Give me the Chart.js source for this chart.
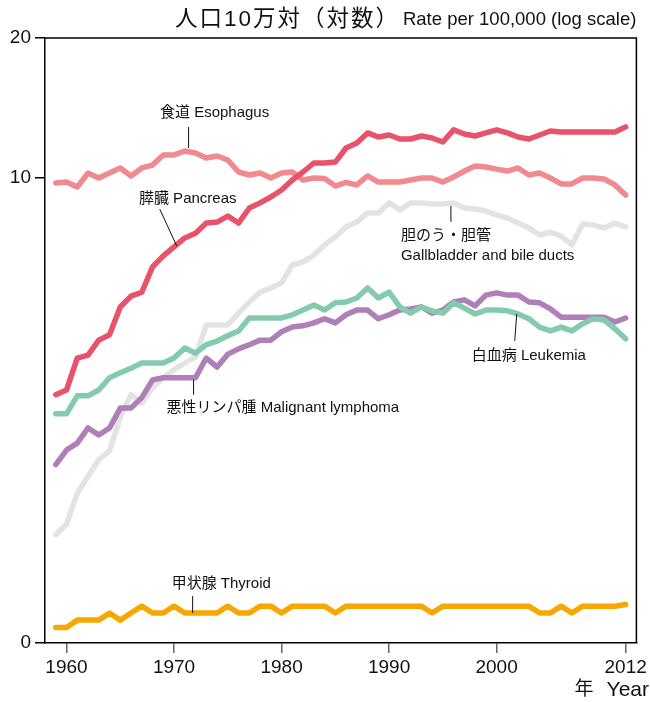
<!DOCTYPE html>
<html lang="ja">
<head>
    <meta charset="UTF-8">
    <title>部位別がん死亡率の推移</title>
    <script src="https://cdn.jsdelivr.net/npm/chart.js"></script>
    <style>
        html, body { margin: 0; padding: 0; background: #fff; }
        .chart-box { position: relative; width: 650px; height: 702px; }
    </style>
</head>
<body>
    <div class="chart-box"><canvas id="rateChart"></canvas></div>

    <script>
        // rate per 100,000 (log scale)
        const years = [1959, 1960, 1961, 1962, 1963, 1964, 1965, 1966, 1967, 1968,
            1969, 1970, 1971, 1972, 1973, 1974, 1975, 1976, 1977, 1978,
            1979, 1980, 1981, 1982, 1983, 1984, 1985, 1986, 1987, 1988,
            1989, 1990, 1991, 1992, 1993, 1994, 1995, 1996, 1997, 1998,
            1999, 2000, 2001, 2002, 2003, 2004, 2005, 2006, 2007, 2008,
            2009, 2010, 2011, 2012];

        const esophagus = [9.75, 9.80, 9.56, 10.25, 10.00, 10.25, 10.51, 10.10, 10.51, 10.66,
            11.21, 11.21, 11.43, 11.32, 11.04, 11.15, 10.93, 10.30, 10.15, 10.25,
            10.00, 10.25, 10.30, 9.90, 10.00, 9.97, 9.61, 9.78, 9.66, 10.10,
            9.80, 9.80, 9.80, 9.90, 10.00, 10.00, 9.80, 10.05, 10.35, 10.61,
            10.56, 10.45, 10.35, 10.51, 10.15, 10.25, 10.00, 9.71, 9.71, 10.00,
            10.00, 9.95, 9.66, 9.19];

        const pancreas = [3.42, 3.50, 4.10, 4.16, 4.48, 4.60, 5.28, 5.57, 5.68, 6.44,
            6.80, 7.11, 7.43, 7.61, 8.00, 8.04, 8.28, 8.00, 8.62, 8.84,
            9.10, 9.42, 9.90, 10.30, 10.77, 10.77, 10.82, 11.60, 11.89, 12.50,
            12.25, 12.37, 12.13, 12.13, 12.31, 12.19, 11.95, 12.69, 12.43, 12.31,
            12.50, 12.69, 12.50, 12.25, 12.13, 12.37, 12.62, 12.56, 12.56, 12.56,
            12.56, 12.56, 12.56, 12.88];

        const gallbladder = [1.71, 1.80, 2.10, 2.28, 2.48, 2.59, 3.06, 3.42, 3.28, 3.54,
            3.72, 3.87, 4.00, 4.12, 4.83, 4.83, 4.83, 5.12, 5.41, 5.68,
            5.80, 5.95, 6.50, 6.60, 6.83, 7.18, 7.47, 7.85, 8.04, 8.41,
            8.41, 8.84, 8.54, 8.84, 8.84, 8.79, 8.79, 8.84, 8.62, 8.58,
            8.49, 8.33, 8.20, 8.00, 7.81, 7.54, 7.65, 7.50, 7.18, 7.96,
            7.92, 7.81, 8.00, 7.85];

        const leukemia = [3.11, 3.11, 3.40, 3.40, 3.50, 3.72, 3.81, 3.90, 4.00, 4.00,
            4.00, 4.10, 4.31, 4.20, 4.38, 4.46, 4.58, 4.69, 5.00, 5.00,
            5.00, 5.00, 5.08, 5.20, 5.33, 5.20, 5.39, 5.41, 5.52, 5.80,
            5.52, 5.68, 5.28, 5.12, 5.28, 5.18, 5.12, 5.39, 5.25, 5.10,
            5.20, 5.20, 5.18, 5.10, 4.98, 4.78, 4.69, 4.78, 4.69, 4.86,
            4.98, 4.95, 4.74, 4.51];

        const lymphoma = [2.42, 2.60, 2.69, 2.90, 2.80, 2.90, 3.20, 3.20, 3.37, 3.68,
            3.72, 3.72, 3.72, 3.72, 4.10, 3.92, 4.18, 4.29, 4.38, 4.48,
            4.48, 4.67, 4.78, 4.81, 4.88, 4.98, 4.88, 5.08, 5.20, 5.20,
            4.98, 5.08, 5.20, 5.23, 5.28, 5.12, 5.20, 5.41, 5.47, 5.31,
            5.60, 5.66, 5.60, 5.60, 5.41, 5.39, 5.23, 5.02, 5.02, 5.02,
            5.02, 5.02, 4.90, 5.00];

        const thyroid = [1.08, 1.08, 1.12, 1.12, 1.12, 1.16, 1.12, 1.16, 1.20, 1.16,
            1.16, 1.20, 1.16, 1.16, 1.16, 1.16, 1.20, 1.16, 1.16, 1.20,
            1.20, 1.16, 1.20, 1.20, 1.20, 1.20, 1.16, 1.20, 1.20, 1.20,
            1.20, 1.20, 1.20, 1.20, 1.20, 1.16, 1.20, 1.20, 1.20, 1.20,
            1.20, 1.20, 1.20, 1.20, 1.20, 1.16, 1.16, 1.20, 1.16, 1.20,
            1.20, 1.20, 1.20, 1.21];

        const xTicks = [1960, 1970, 1980, 1990, 2000, 2012];
        const yTicks = [1, 10, 20];

        const titleJa = "人口10万対（対数）";
        const titleEn = "Rate per 100,000 (log scale)";
        const xAxisJa = "年";
        const xAxisEn = "Year";

        // label + leader line; anchor is a point on the series (year, rate)
        const notes = [
            { lines: ["食道 Esophagus"], year: 1971.26, rate: 11.43, lead: [1, -3, 1, -24], text: [27, -38], align: "center" },
            { lines: ["膵臓 Pancreas"], year: 1970.25, rate: 7.14, lead: [0, 0, -17, -37], text: [11, -47], align: "center" },
            { lines: ["胆のう・胆管", "Gallbladder and bile ducts"], year: 1995.75, rate: 8.84, lead: [0, 3, 0, 19], text: [-50, 33, 20], align: "left" },
            { lines: ["白血病 Leukemia"], year: 2001.87, rate: 5.10, lead: [0, 0, -2, 27], text: [-45, 42], align: "left" },
            { lines: ["悪性リンパ腫 Malignant lymphoma"], year: 1971.82, rate: 3.72, lead: [0, 2, 0, 17], text: [-27, 30], align: "left" },
            { lines: ["甲状腺 Thyroid"], year: 1971.73, rate: 1.16, lead: [0, 0, 0, -17], text: [-21, -29], align: "left" }
        ];

        const latinFont = "'Liberation Sans', Arial, 'Noto Sans CJK JP', sans-serif";

        const toPoints = arr => years.map((yr, i) => ({ x: yr, y: arr[i] }));

        const makeSet = (label, arr, color, order) => ({
            label,
            data: toPoints(arr),
            borderColor: color,
            backgroundColor: color,
            order
        });

        const notesPlugin = {
            id: "notes",
            afterDatasetsDraw(chart) {
                const { ctx, scales } = chart;
                ctx.save();
                ctx.font = "15px " + latinFont;
                ctx.fillStyle = "#111";
                ctx.strokeStyle = "#111";
                ctx.lineWidth = 1;
                ctx.textBaseline = "middle";
                notes.forEach(n => {
                    const px = scales.x.getPixelForValue(n.year);
                    const py = scales.y.getPixelForValue(n.rate);
                    ctx.beginPath();
                    ctx.moveTo(px + n.lead[0], py + n.lead[1]);
                    ctx.lineTo(px + n.lead[2], py + n.lead[3]);
                    ctx.stroke();
                    ctx.textAlign = n.align;
                    const gap = n.text[2] || 0;
                    n.lines.forEach((t, i) => {
                        ctx.fillText(t, px + n.text[0], py + n.text[1] + i * gap);
                    });
                });
                ctx.restore();
            },
            afterDraw(chart) {
                const { ctx, chartArea } = chart;
                ctx.save();
                // top and right frame
                ctx.strokeStyle = "#000";
                ctx.lineWidth = 1.5;
                ctx.beginPath();
                ctx.moveTo(chartArea.left, chartArea.top);
                ctx.lineTo(chartArea.right, chartArea.top);
                ctx.lineTo(chartArea.right, chartArea.bottom);
                ctx.stroke();

                ctx.fillStyle = "#111";
                ctx.textAlign = "right";
                ctx.textBaseline = "middle";

                // title: english part at the right, japanese before it
                const ty = chartArea.top - 18;
                ctx.font = "18.5px " + latinFont;
                ctx.fillText(titleEn, chartArea.right, ty);
                const enW = ctx.measureText(titleEn).width;
                ctx.font = "22.5px " + latinFont;
                ctx.letterSpacing = "2px";
                ctx.fillText(titleJa, chartArea.right - enW - 3, ty);
                ctx.letterSpacing = "0px";

                // x axis name
                const ay = chartArea.bottom + 47;
                ctx.font = "21px " + latinFont;
                ctx.fillText(xAxisEn, chart.width - 1, ay);
                const yearW = ctx.measureText(xAxisEn).width;
                ctx.font = "19px " + latinFont;
                ctx.fillText(xAxisJa, chart.width - 1 - yearW - 13, ay);
                ctx.restore();
            }
        };

        new Chart(document.getElementById("rateChart"), {
            type: "line",
            data: {
                datasets: [
                    makeSet("膵臓 Pancreas", pancreas, "#e8526a", 1),
                    makeSet("食道 Esophagus", esophagus, "#f08a8f", 2),
                    makeSet("白血病 Leukemia", leukemia, "#84cbae", 3),
                    makeSet("悪性リンパ腫 Malignant lymphoma", lymphoma, "#b07eb8", 4),
                    makeSet("甲状腺 Thyroid", thyroid, "#f6a800", 5),
                    makeSet("胆のう・胆管 Gallbladder and bile ducts", gallbladder, "#e3e3e3", 6)
                ]
            },
            options: {
                responsive: true,
                maintainAspectRatio: false,
                animation: false,
                layout: { padding: { top: 38, right: 12, left: 0, bottom: 0 } },
                plugins: { legend: { display: false }, tooltip: { enabled: false } },
                elements: {
                    point: { radius: 0 },
                    line: { tension: 0, borderWidth: 5.5, borderJoinStyle: "round", borderCapStyle: "round" }
                },
                scales: {
                    x: {
                        type: "linear",
                        min: 1958,
                        max: 2013,
                        afterBuildTicks: s => { s.ticks = xTicks.map(v => ({ value: v })); },
                        afterFit: s => { s.height = 59; },
                        ticks: {
                            autoSkip: false,
                            maxRotation: 0,
                            padding: 3,
                            color: "#111",
                            font: { family: latinFont, size: 19 },
                            callback: v => String(v)
                        },
                        grid: { drawOnChartArea: false, drawTicks: true, tickLength: 10, color: "#666", lineWidth: 1.5 },
                        border: { display: true, color: "#000", width: 1.5 }
                    },
                    y: {
                        type: "logarithmic",
                        min: 1,
                        max: 20,
                        afterBuildTicks: s => { s.ticks = yTicks.map(v => ({ value: v })); },
                        afterFit: s => { s.width = 45; },
                        ticks: {
                            autoSkip: false,
                            padding: 4,
                            color: "#111",
                            font: { family: latinFont, size: 19 },
                            callback: v => (v === 1 ? "0" : String(v))
                        },
                        grid: { drawOnChartArea: false, drawTicks: true, tickLength: 10, color: "#000", lineWidth: 1.5 },
                        border: { display: true, color: "#000", width: 1.5 }
                    }
                }
            },
            plugins: [notesPlugin]
        });
    </script>
</body>
</html>
